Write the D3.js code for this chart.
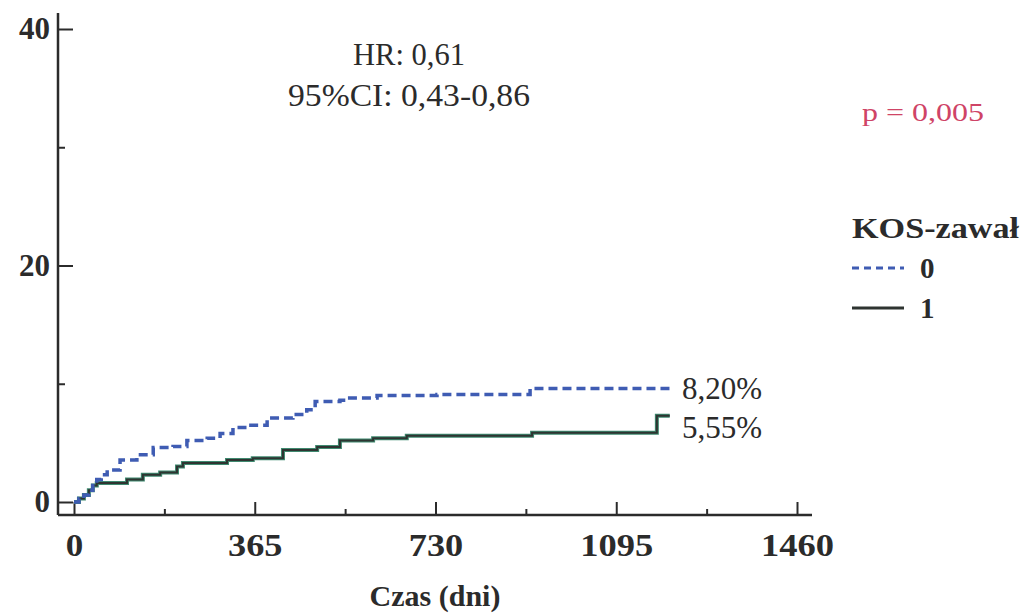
<!DOCTYPE html>
<html lang="pl">

<head>
    <meta charset="UTF-8" />
    <title>KOS-zawał</title>
    <style>
        body { margin: 0; background: #fff; }
        text { font-family: "Liberation Serif", "Times New Roman", serif; fill: #2b2b2b; }
    </style>
    <script src="https://cdn.jsdelivr.net/npm/d3@7"></script>
</head>

<body>
</body>

<script>
    // group 0 (dashed) and group 1 (solid): cumulative %
    let days0 = [0, 10, 20, 30, 38, 46, 55, 67, 93, 127, 160, 200, 228, 269, 295, 321, 349, 390, 442, 470, 487, 537, 551, 612, 733, 921, 1203];
    let risk0 = [0, 0.3, 0.6, 1.0, 1.4, 1.9, 2.3, 2.7, 3.55, 4.0, 4.6, 4.7, 5.2, 5.4, 5.8, 6.3, 6.5, 7.1, 7.4, 7.8, 8.5, 8.6, 8.8, 9.0, 9.1, 9.6, 9.6];
    let days1 = [0, 10, 20, 30, 38, 46, 107, 139, 174, 208, 220, 309, 361, 422, 491, 537, 604, 672, 925, 1177, 1203];
    let risk1 = [0, 0.3, 0.6, 1.0, 1.4, 1.6, 1.9, 2.3, 2.5, 3.0, 3.3, 3.55, 3.7, 4.4, 4.65, 5.2, 5.4, 5.6, 5.85, 7.3, 7.3];

    let xMajor = [0, 365, 730, 1095, 1460];
    let xMinor = [182.5, 547.5, 912.5, 1277.5];
    let yMajor = [0, 20, 40];
    let yMinor = [10, 30];
    let endLabels = ["8,20%", "5,55%"];
    let legendKeys = ["0", "1"];

    let w = 1022;
    let h = 613;

    let svg = d3.select("body").append("svg")
        .attr("width", w)
        .attr("height", h);

    let x = d3.scaleLinear().domain([0, 1460]).range([74, 797]);
    let y = d3.scaleLinear().domain([0, 40]).range([502, 29]);

    let axisX = 58, axisY = 515;

    // axis lines (they run past the 0 point, like the original)
    svg.append("line").attr("x1", axisX).attr("x2", axisX).attr("y1", 13).attr("y2", axisY)
        .attr("stroke", "#2b2b2b").attr("stroke-width", 2.5);
    svg.append("line").attr("x1", axisX).attr("x2", 812).attr("y1", axisY).attr("y2", axisY)
        .attr("stroke", "#2b2b2b").attr("stroke-width", 2.5);

    // y axis
    svg.append("g").attr("transform", `translate(${axisX},0)`)
        .call(d3.axisLeft(y).tickValues(yMajor).tickSize(-15).tickPadding(8));
    svg.append("g").attr("transform", `translate(${axisX},0)`)
        .call(d3.axisLeft(y).tickValues(yMinor).tickSize(-7).tickFormat(""));

    // x axis
    let gx = svg.append("g").attr("transform", `translate(0,${axisY})`)
        .call(d3.axisBottom(x).tickValues(xMajor).tickSize(-13).tickPadding(19).tickFormat(d3.format("d")));
    svg.append("g").attr("transform", `translate(0,${axisY})`)
        .call(d3.axisBottom(x).tickValues(xMinor).tickSize(-6).tickFormat(""));

    svg.selectAll(".domain").remove();
    svg.selectAll(".tick line").attr("stroke", "#2b2b2b").attr("stroke-width", 2);
    svg.selectAll(".tick text")
        .attr("font-weight", "bold")
        .attr("font-size", 31)
        .attr("fill", "#2b2b2b");
    // the scanned labels are a bit wider than the font
    gx.selectAll(".tick text")
        .attr("textLength", d => String(d).length * 18.5 - 1)
        .attr("lengthAdjust", "spacingAndGlyphs");

    svg.append("text")
        .attr("x", 435).attr("y", 606)
        .attr("text-anchor", "middle")
        .attr("font-weight", "bold")
        .attr("font-size", 30)
        .text("Czas (dni)");

    // curves
    let line = d3.line()
        .x(d => x(d[0]))
        .y(d => y(d[1]))
        .curve(d3.curveStepAfter);

    let pts0 = days0.map((d, i) => [d, risk0[i]]);
    let pts1 = days1.map((d, i) => [d, risk1[i]]);

    svg.append("path").attr("d", line(pts1))
        .attr("fill", "none").attr("stroke", "#3f8a70").attr("stroke-width", 4);
    svg.append("path").attr("d", line(pts1))
        .attr("fill", "none").attr("stroke", "#2e3431").attr("stroke-width", 2);
    svg.append("path").attr("d", line(pts0))
        .attr("fill", "none").attr("stroke", "#3f5cb3").attr("stroke-width", 3.5)
        .attr("stroke-dasharray", "9,5");

    // end labels
    svg.selectAll(".endlab")
        .data([risk0[risk0.length - 1], risk1[risk1.length - 1]])
        .enter().append("text")
        .attr("x", 682)
        .attr("y", (d, i) => i == 0 ? y(d) + 11 : y(d) + 22)
        .attr("font-size", 31)
        .text((d, i) => endLabels[i]);

    // HR box
    svg.append("text").attr("x", 353).attr("y", 65)
        .attr("font-size", 31).attr("textLength", 112).attr("lengthAdjust", "spacingAndGlyphs")
        .text("HR: 0,61");
    svg.append("text").attr("x", 288).attr("y", 106)
        .attr("font-size", 31).attr("textLength", 242).attr("lengthAdjust", "spacingAndGlyphs")
        .text("95%CI: 0,43-0,86");

    svg.append("text").attr("x", 862).attr("y", 121)
        .attr("font-size", 25).attr("textLength", 122).attr("lengthAdjust", "spacingAndGlyphs")
        .style("fill", "#cf4466").text("p = 0,005");

    // legend
    svg.append("text").attr("x", 852).attr("y", 238)
        .attr("font-weight", "bold").attr("font-size", 29)
        .attr("textLength", 167).attr("lengthAdjust", "spacingAndGlyphs")
        .text("KOS-zawał");

    let leg = svg.selectAll(".leg").data(legendKeys).enter().append("g")
        .attr("transform", (d, i) => `translate(852,${268 + i * 40})`);
    leg.append("line").attr("x1", 0).attr("x2", 52)
        .attr("stroke", (d, i) => i == 0 ? "#3f5cb3" : "#2e3431")
        .attr("stroke-width", 3)
        .attr("stroke-dasharray", (d, i) => i == 0 ? "7,5" : null);
    leg.append("text").attr("x", 68).attr("y", 10)
        .attr("font-weight", "bold").attr("font-size", 29)
        .text(d => d);
</script>

</html>
